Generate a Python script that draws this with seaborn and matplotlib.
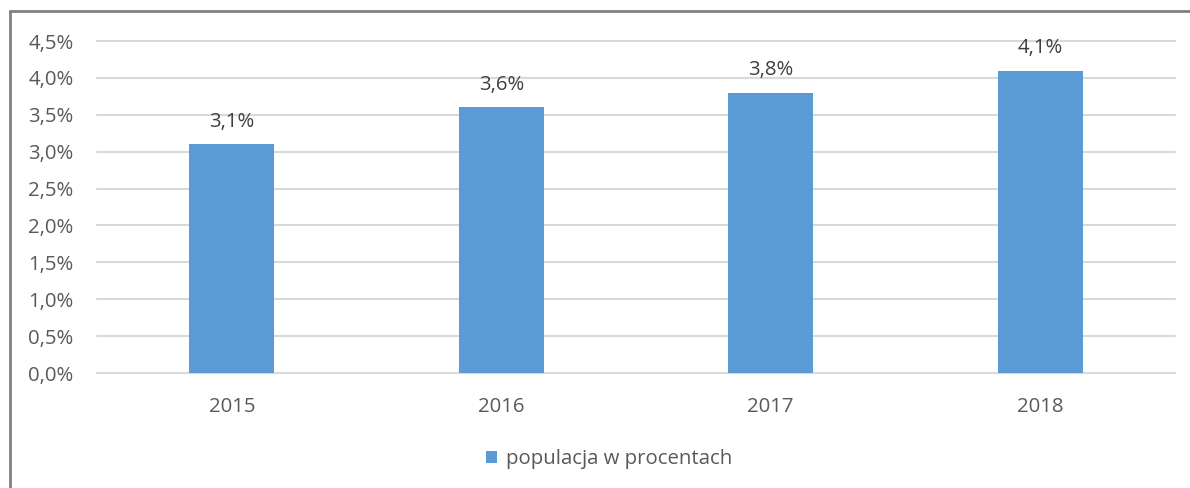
import matplotlib
matplotlib.use("Agg")
import matplotlib.pyplot as plt
import seaborn as sns
import pandas as pd
from matplotlib.patches import Rectangle, Patch
from matplotlib.ticker import FuncFormatter

years = ["2015", "2016", "2017", "2018"]
values = [0.031, 0.036, 0.038, 0.041]
value_labels = ["3,1%", "3,6%", "3,8%", "4,1%"]
series_name = "populacja w procentach"

sns.set_theme(style="white")
plt.rcParams['font.family'] = ['Open Sans', 'DejaVu Sans']

df = pd.DataFrame({"rok": years, "wartosc": values})

W, H = 1190, 488
FS = 14.7
fig = plt.figure(figsize=(W / 100, H / 100), dpi=100)
ax = fig.add_axes([97 / W, 1 - 373 / H, (1175 - 97) / W, (373 - 41) / H])

color = "#5b9bd5"
sns.barplot(data=df, x="rok", y="wartosc", color=color, width=0.315,
            saturation=1, ax=ax, zorder=3, linewidth=0, edgecolor="none")

ax.set_ylim(0, 0.045)
ax.set_xlim(-0.5, 3.5)
ax.set_yticks([i * 0.005 for i in range(10)])
ax.yaxis.set_major_formatter(FuncFormatter(lambda v, p: f"{v*100:.1f}%".replace(".", ",")))
ax.grid(axis="y", color="#d9d9d9", linewidth=1.5, zorder=0)
for gl in ax.get_ygridlines():
    gl.set_clip_on(False)
ax.set_axisbelow(True)
for s in ["top", "right", "left"]:
    ax.spines[s].set_visible(False)
ax.spines["bottom"].set_color("#d9d9d9")
ax.spines["bottom"].set_linewidth(1.5)
ax.tick_params(axis="both", length=0, labelsize=FS, colors="#595959")
ax.tick_params(axis="y", pad=17)
ax.tick_params(axis="x", pad=17)
ax.set_xlabel("")
ax.set_ylabel("")

for i, (v, lab) in enumerate(zip(values, value_labels)):
    ax.annotate(lab, (i, v), xytext=(0, 9), textcoords="offset points",
                ha="center", va="bottom", fontsize=FS, color="#404040")

handle = Patch(facecolor=color, edgecolor="none")
fig.legend([handle], [series_name], loc="center", bbox_to_anchor=(609 / W, 1 - 459 / H),
           frameon=False, fontsize=FS, handlelength=0.55, handleheight=0.55,
           handletextpad=0.4, labelcolor="#595959")

border = Rectangle((10 / W, -0.1), 1.2, (1 - 11 / H) + 0.1, transform=fig.transFigure,
                   fill=False, edgecolor="#808080", linewidth=2, clip_on=False)
fig.patches.append(border)

fig.savefig("out.png", dpi=100)
